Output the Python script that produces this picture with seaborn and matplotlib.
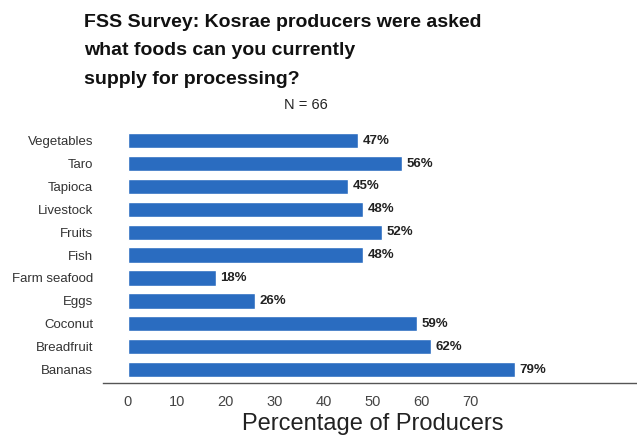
import matplotlib
matplotlib.use("Agg")
import matplotlib.pyplot as plt
import seaborn as sns
import pandas as pd

categories = ["Vegetables", "Taro", "Tapioca", "Livestock", "Fruits", "Fish",
              "Farm seafood", "Eggs", "Coconut", "Breadfruit", "Bananas"]
percent = [47, 56, 45, 48, 52, 48, 18, 26, 59, 62, 79]
x_ticks = [0, 10, 20, 30, 40, 50, 60, 70]

title = "FSS Survey: Kosrae producers were asked\nwhat foods can you currently\nsupply for processing?"
subtitle = "N = 66"
x_label = "Percentage of Producers"

df = pd.DataFrame({"food": categories, "pct": percent})

sns.set_theme(style="white")
plt.rcParams["font.family"] = ["Liberation Sans", "DejaVu Sans"]

W, H = 637, 447
fig = plt.figure(figsize=(W / 100, H / 100), dpi=100)
fig.patch.set_facecolor("white")

# axes box in pixel units: left 103, right 637, top 127, bottom 383
left, right, top, bottom = 103, 637, 127, 383
ax = fig.add_axes([left / W, 1 - bottom / H, (right - left) / W, (bottom - top) / H])

bar_color = "#2A6CC0"
sns.barplot(data=df, x="pct", y="food", order=categories, color=bar_color,
            width=0.67, saturation=1, ax=ax, orient="h")

ax.set_xlim(-5.1, 104)
ax.set_ylim(10.59, -0.6)

for i, v in enumerate(percent):
    ax.text(v + 0.9, i, f"{v}%", va="center", ha="left", fontsize=9.5,
            fontweight="bold", color="#222222")

for s in ["top", "right", "left"]:
    ax.spines[s].set_visible(False)
ax.spines["bottom"].set_color("#555555")
ax.spines["bottom"].set_linewidth(1.0)

ax.set_xticks(x_ticks)
ax.set_xticklabels([str(t) for t in x_ticks], fontsize=10.5, color="#444444")
ax.tick_params(axis="x", length=0, pad=9)
ax.tick_params(axis="y", length=0, pad=7, labelsize=9.5, labelcolor="#333333")
ax.set_ylabel("")
ax.set_xlabel(x_label, fontsize=17, color="#222222")
ax.xaxis.set_label_coords(0.505, -0.118, transform=ax.transAxes)

fig.text(84 / W, 1 - 14 / H, title, ha="left", va="top", fontsize=14,
         fontweight="bold", color="#111111", linespacing=1.88)
fig.text(306 / W, 1 - 105 / H, subtitle, ha="center", va="center",
         fontsize=10.5, color="#222222")

fig.savefig("out.png", dpi=100, facecolor="white")
